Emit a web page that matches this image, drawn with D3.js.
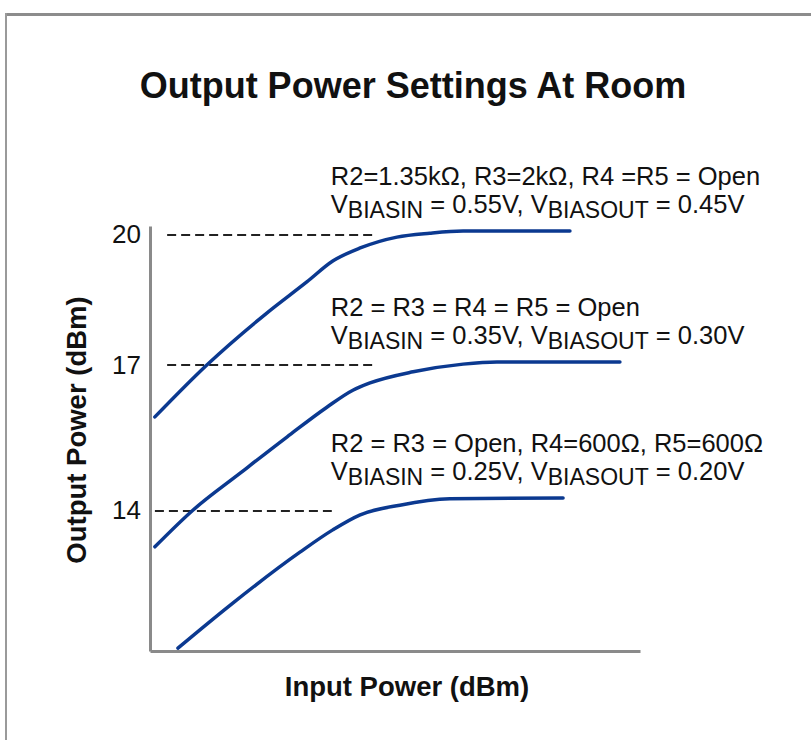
<!DOCTYPE html>
<html>
<head>
<meta charset="utf-8">
<script src="https://cdn.jsdelivr.net/npm/d3@7"></script>
<style>
  body { margin: 0; background: #fff; }
  text { font-family: "Liberation Sans", Arial, Helvetica, sans-serif; fill: #111; }
</style>
</head>
<body>
<div id="chart"></div>
<script>
var svgWidth = 811;
var svgHeight = 740;

// input power has no ticks on the original, so x is in arbitrary units 0-100
var highIn  = [1.0, 11.6, 23.9, 32.0, 37.3, 42.9, 50.4, 57.1, 63.9, 85.7];
var highOut = [15.93, 17.0, 18.2, 18.91, 19.39, 19.69, 19.94, 20.03, 20.08, 20.08];
var midIn   = [1.0, 8.8, 18.4, 28.0, 36.1, 41.4, 44.9, 53.7, 63.9, 70.8, 95.9];
var midOut  = [13.25, 14.01, 14.77, 15.52, 16.13, 16.48, 16.63, 16.86, 17.02, 17.07, 17.07];
var lowIn   = [5.7, 16.9, 30.6, 37.3, 42.9, 51.0, 61.2, 84.3];
var lowOut  = [11.16, 12.09, 13.14, 13.60, 13.91, 14.11, 14.24, 14.26];

// y tick levels and the dashed guide lines drawn at them
var yTicks   = [14, 17, 20];
var refStart = [1.0, 3.5, 3.5];
var refEnd   = [37.1, 45.5, 45.5];

// annotation text, same order as the curves low / mid / high
var noteLine1 = ["R2 = R3 = Open, R4=600Ω, R5=600Ω",
                 "R2 = R3 = R4 = R5 = Open",
                 "R2=1.35kΩ, R3=2kΩ, R4 =R5 = Open"];
var biasIn  = ["0.25V", "0.35V", "0.55V"];
var biasOut = ["0.20V", "0.30V", "0.45V"];

var curves = [
  { x: lowIn,  y: lowOut },
  { x: midIn,  y: midOut },
  { x: highIn, y: highOut }
];

var svg = d3.select("#chart")
  .append("svg")
  .attr("width", svgWidth)
  .attr("height", svgHeight);

// page frame (grey top rule and left rule)
svg.append("rect")
  .attr("x", 5).attr("y", 13)
  .attr("width", 806).attr("height", 3)
  .attr("fill", "#8c8c8c");
svg.append("rect")
  .attr("x", 5).attr("y", 13)
  .attr("width", 2).attr("height", 727)
  .attr("fill", "#9a9a9a");

// title
svg.append("text")
  .attr("x", 413)
  .attr("y", 98)
  .attr("text-anchor", "middle")
  .style("font-size", "36px")
  .style("font-weight", "bold")
  .text("Output Power Settings At Room");

var xScale = d3.scaleLinear()
  .domain([0, 100])
  .range([150, 640]);

// the gridlines on the original are not evenly spaced, so piecewise
var yScale = d3.scaleLinear()
  .domain([11.1, 14, 17, 20, 20.2])
  .range([651, 510.5, 365, 234.5, 226]);

// dashed guide lines
svg.selectAll(".guide")
  .data(yTicks)
  .enter()
  .append("line")
  .attr("class", "guide")
  .attr("x1", (d, i) => xScale(refStart[i]))
  .attr("x2", (d, i) => xScale(refEnd[i]))
  .attr("y1", d => Math.round(yScale(d)))
  .attr("y2", d => Math.round(yScale(d)))
  .attr("stroke", "#222")
  .attr("stroke-width", 2)
  .attr("stroke-dasharray", "9,5");

// axes
var leftAxis = d3.axisLeft(yScale)
  .tickValues(yTicks)
  .tickSize(0)
  .tickPadding(9)
  .tickFormat(d3.format("d"));

var bottomAxis = d3.axisBottom(xScale)
  .tickValues([])
  .tickSizeOuter(0);

var yAxis = svg.append("g")
  .attr("transform", "translate(150,0)")
  .call(leftAxis);

var xAxis = svg.append("g")
  .attr("transform", "translate(0,651)")
  .call(bottomAxis);

[yAxis, xAxis].forEach(function(ax) {
  ax.select(".domain")
    .attr("stroke", "#8a8a8a")
    .attr("stroke-width", 3);
});
yAxis.selectAll(".tick text")
  .style("font-size", "26px")
  .style("font-family", "\"Liberation Sans\", Arial, sans-serif")
  .attr("fill", "#222");

// axis titles
svg.append("text")
  .attr("x", 407)
  .attr("y", 696)
  .attr("text-anchor", "middle")
  .style("font-size", "27.5px")
  .style("font-weight", "bold")
  .text("Input Power (dBm)");

svg.append("text")
  .attr("transform", "translate(86,430) rotate(-90)")
  .attr("text-anchor", "middle")
  .style("font-size", "27.5px")
  .style("font-weight", "bold")
  .text("Output Power (dBm)");

// curves
var line = d3.line()
  .x(d => xScale(d[0]))
  .y(d => yScale(d[1]))
  .curve(d3.curveMonotoneX);

svg.selectAll(".curve")
  .data(curves)
  .enter()
  .append("path")
  .attr("class", "curve")
  .attr("d", c => line(d3.zip(c.x, c.y)))
  .attr("fill", "none")
  .attr("stroke", "#0b3990")
  .attr("stroke-width", 3.5)
  .attr("stroke-linecap", "round");

// annotations sit above the flat end of each curve
var noteX = xScale(36.9);
curves.forEach(function(c, i) {
  var base = yScale(c.y[c.y.length - 1]) - 46;

  svg.append("text")
    .attr("x", noteX)
    .attr("y", base)
    .style("font-size", "25.5px")
    .attr("fill", "#222")
    .text(noteLine1[i]);

  var t = svg.append("text")
    .attr("x", noteX)
    .attr("y", base + 28)
    .style("font-size", "25.5px")
    .attr("fill", "#222");
  t.append("tspan").text("V");
  t.append("tspan").attr("dy", 5).style("font-size", "23px").text("BIASIN");
  t.append("tspan").attr("dy", -5).text(" = " + biasIn[i] + ", V");
  t.append("tspan").attr("dy", 5).style("font-size", "23px").text("BIASOUT");
  t.append("tspan").attr("dy", -5).text(" = " + biasOut[i]);
});
</script>
</body>
</html>
